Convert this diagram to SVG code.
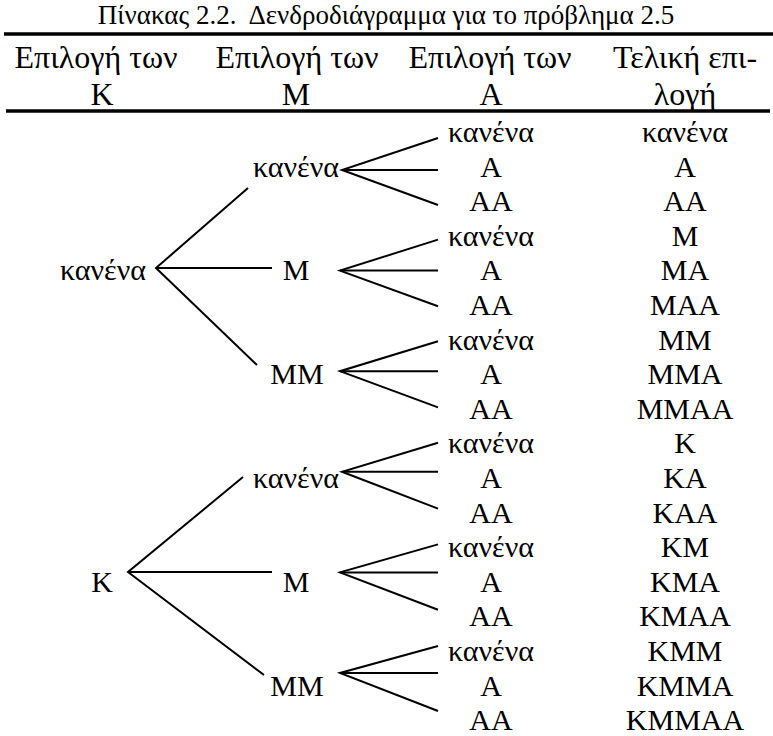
<svg xmlns="http://www.w3.org/2000/svg" width="773" height="736" viewBox="0 0 773 736">
  <style>
    text { font-family: "Liberation Serif", "Times New Roman", serif; fill: #000; text-anchor: middle; }
    .title { font-size: 27px; }
    .hdr { font-size: 32px; }
    .item { font-family: "Liberation Serif", "Times New Roman", serif; font-size: 30px; }
    .rule { stroke: #000; stroke-width: 3.5; fill: none; }
    .edge { stroke: #000; stroke-width: 2; fill: none; stroke-linecap: butt; stroke-linejoin: miter; }
  </style>
  <rect width="773" height="736" fill="#fff"/>

  <!-- caption and header -->
  <g id="caption">
    <text class="title" x="386" y="24">Πίνακας 2.2.&#160; Δενδροδιάγραμμα για το πρόβλημα 2.5</text>
  </g>
  <line class="rule" x1="4" y1="34" x2="773" y2="34"/>
  <g id="header">
    <text class="hdr" x="96" y="68">Επιλογή των</text>
    <text class="hdr" x="297" y="68">Επιλογή των</text>
    <text class="hdr" x="490" y="68">Επιλογή των</text>
    <text class="hdr" x="685" y="68">Τελική επι-</text>
    <text class="hdr" x="102" y="105">Κ</text>
    <text class="hdr" x="296" y="105">Μ</text>
    <text class="hdr" x="491" y="105">Α</text>
    <text class="hdr" x="685" y="105">λογή</text>
  </g>
  <line class="rule" x1="6" y1="111" x2="770" y2="111"/>

  <!-- branches of the tree -->
  <g id="connectors">
    <!-- level 1 -->
    <polyline class="edge" points="248,188 156,268 257,365"/>
    <line class="edge" x1="156" y1="268" x2="272" y2="268"/>
    <polyline class="edge" points="243,477 128,572 264,675"/>
    <line class="edge" x1="128" y1="572" x2="272" y2="572"/>
    <!-- level 2 -->
    <polyline class="edge" points="438,138 342,170 438,205"/>
    <line class="edge" x1="342" y1="170" x2="438" y2="170"/>
    <polyline class="edge" points="438,239.6 340,270.6 438,306.2"/>
    <line class="edge" x1="340" y1="270.6" x2="438" y2="270.6"/>
    <polyline class="edge" points="438,341.2 340,371.2 438,407.4"/>
    <line class="edge" x1="340" y1="371.2" x2="438" y2="371.2"/>
    <polyline class="edge" points="438,442.8 342,471.8 438,508.6"/>
    <line class="edge" x1="342" y1="471.8" x2="438" y2="471.8"/>
    <polyline class="edge" points="438,544.4 340,572.4 438,609.8"/>
    <line class="edge" x1="340" y1="572.4" x2="438" y2="572.4"/>
    <polyline class="edge" points="438,646 340,673 438,711"/>
    <line class="edge" x1="340" y1="673" x2="438" y2="673"/>
  </g>

  <!-- choice of K -->
  <g id="k-none"><text class="item" x="103" y="280.4">κανένα</text></g>
  <g id="k-one"><text class="item" x="102" y="591.8">Κ</text></g>

  <!-- choice of M -->
  <g id="m-none-1"><text class="item" x="296" y="176.6">κανένα</text></g>
  <g id="m-one-1"><text class="item" x="296" y="280.4">Μ</text></g>
  <g id="m-two-1"><text class="item" x="297" y="384.2">ΜΜ</text></g>
  <g id="m-none-2"><text class="item" x="296" y="488">κανένα</text></g>
  <g id="m-one-2"><text class="item" x="296" y="591.8">Μ</text></g>
  <g id="m-two-2"><text class="item" x="297" y="695.6">ΜΜ</text></g>

  <!-- choice of A -->
  <g id="a-col">
    <text class="item" x="491" y="142">κανένα</text>
    <text class="item" x="491" y="176.6">Α</text>
    <text class="item" x="491" y="211.2">ΑΑ</text>
    <text class="item" x="491" y="245.8">κανένα</text>
    <text class="item" x="491" y="280.4">Α</text>
    <text class="item" x="491" y="315">ΑΑ</text>
    <text class="item" x="491" y="349.6">κανένα</text>
    <text class="item" x="491" y="384.2">Α</text>
    <text class="item" x="491" y="418.8">ΑΑ</text>
    <text class="item" x="491" y="453.4">κανένα</text>
    <text class="item" x="491" y="488">Α</text>
    <text class="item" x="491" y="522.6">ΑΑ</text>
    <text class="item" x="491" y="557.2">κανένα</text>
    <text class="item" x="491" y="591.8">Α</text>
    <text class="item" x="491" y="626.4">ΑΑ</text>
    <text class="item" x="491" y="661">κανένα</text>
    <text class="item" x="491" y="695.6">Α</text>
    <text class="item" x="491" y="730.2">ΑΑ</text>
  </g>

  <!-- final choice -->
  <g id="result-col">
    <text class="item" x="685" y="142">κανένα</text>
    <text class="item" x="685" y="176.6">Α</text>
    <text class="item" x="685" y="211.2">ΑΑ</text>
    <text class="item" x="685" y="245.8">Μ</text>
    <text class="item" x="685" y="280.4">ΜΑ</text>
    <text class="item" x="685" y="315">ΜΑΑ</text>
    <text class="item" x="685" y="349.6">ΜΜ</text>
    <text class="item" x="685" y="384.2">ΜΜΑ</text>
    <text class="item" x="685" y="418.8">ΜΜΑΑ</text>
    <text class="item" x="685" y="453.4">Κ</text>
    <text class="item" x="685" y="488">ΚΑ</text>
    <text class="item" x="685" y="522.6">ΚΑΑ</text>
    <text class="item" x="685" y="557.2">ΚΜ</text>
    <text class="item" x="685" y="591.8">ΚΜΑ</text>
    <text class="item" x="685" y="626.4">ΚΜΑΑ</text>
    <text class="item" x="685" y="661">ΚΜΜ</text>
    <text class="item" x="685" y="695.6">ΚΜΜΑ</text>
    <text class="item" x="685" y="730.2">ΚΜΜΑΑ</text>
  </g>
</svg>
